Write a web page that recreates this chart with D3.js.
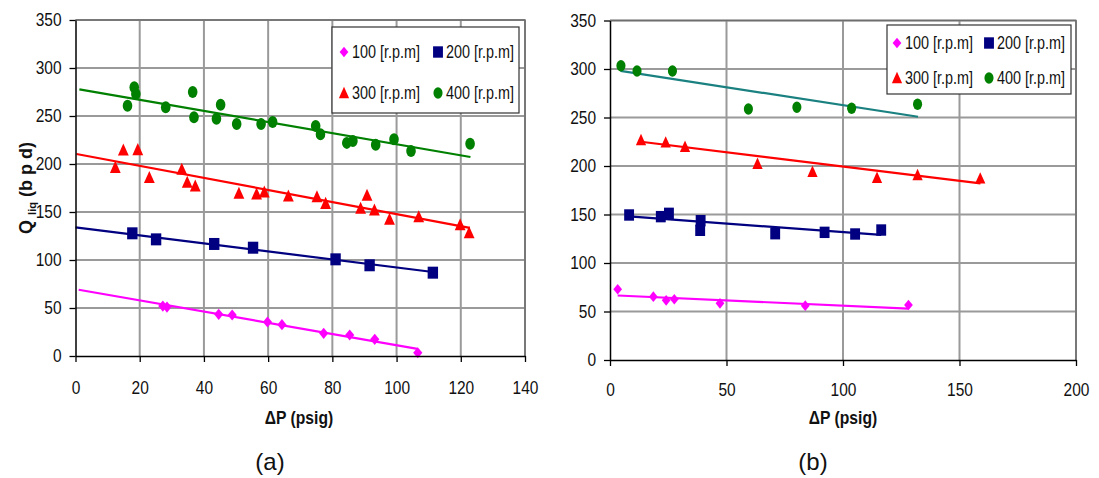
<!DOCTYPE html>
<html>
<head>
<meta charset="utf-8">
<script src="https://cdn.jsdelivr.net/npm/d3@7"></script>
<style>
  body { margin: 0; background: #fff; }
  svg { display: block; }
  text { font-family: "Liberation Sans", Arial, sans-serif; fill: #111; }
</style>
</head>
<body>
<svg id="chart" width="1099" height="478"></svg>
<script>
// ---- Data: (a) ----
const xTicksA = [0, 20, 40, 60, 80, 100, 120, 140];
const yTicks = [0, 50, 100, 150, 200, 250, 300, 350];

const a100 = [[27.2, 52], [28.5, 51], [44.6, 43.4], [48.8, 42.7], [59.8, 35.4], [64.3, 32.6],
              [77.3, 23.6], [85.4, 21.9], [93.2, 17.4], [106.6, 3.4]];
const a200 = [[17.7, 127.8], [25.1, 121.5], [43.2, 116.7], [55.3, 112.8], [81, 100.7], [91.6, 94.5], [111.3, 86.8]];
const a300 = [[12.4, 196.5], [14.9, 214.6], [19.4, 215], [23, 186], [33.1, 194.5], [34.8, 181], [37.3, 177],
              [50.9, 169.5], [56.4, 168.7], [58.8, 170.8], [66.3, 166.7], [75.2, 166], [77.9, 159],
              [88.8, 154], [90.8, 167.4], [93.1, 152], [97.8, 142.4], [106.9, 145], [119.8, 136.8], [122.6, 128.5]];
const a400 = [[16.2, 260.7], [18.3, 280], [18.8, 273], [28.1, 259], [36.5, 275], [36.9, 248.6], [43.9, 247.2],
              [45.2, 261.8], [50.2, 241.7], [57.8, 241.7], [61.4, 243.7], [74.8, 239.6], [76.3, 231],
              [84.5, 222], [86.4, 224], [93.5, 220], [99.2, 225.7], [104.5, 213.5], [122.9, 221]];

// Linear trend lines of (a): [start, end]
const aFit100 = [[1, 69], [106.5, 7.5]];
const aFit200 = [[0, 134], [111.3, 87.5]];
const aFit300 = [[0.3, 210.4], [122.8, 133.5]];
const aFit400 = [[1.2, 277.8], [123, 207.3]];

// ---- Data: (b) ----
const xTicksB = [0, 50, 100, 150, 200];

const b100 = [[3.3, 72.9], [18.6, 65.3], [24.1, 61.5], [27.6, 62.6], [47.2, 58.4], [83.8, 56], [128.1, 56.7]];
const b200 = [[8.2, 149.5], [21.8, 147.8], [25.3, 151.2], [38.9, 143.6], [38.7, 133.7], [70.9, 130.2],
              [92.1, 131.6], [105.2, 129.9], [116.4, 134]];
const b300 = [[13.3, 226.8], [23.9, 224.4], [32.2, 219.9], [63.3, 202.4], [86.9, 194.1], [114.6, 188],
              [132, 190.7], [158.9, 187.3]];
const b400 = [[4.7, 303.4], [11.6, 298], [26.8, 298], [59.4, 258.8], [80.2, 260.5], [103.7, 259.5], [132, 263.6]];

const bFit100 = [[3.3, 66.5], [128, 53]];
const bFit200 = [[8.2, 148], [116.4, 129]];
const bFit300 = [[13.3, 225], [159, 182]];
const bFit400 = [[4.5, 298], [132.2, 250.8]];

const seriesNames = ["100 [r.p.m]", "200 [r.p.m]", "300 [r.p.m]", "400 [r.p.m]"];
const seriesColors = ["#ff00ff", "#000080", "#ff0000", "#008000"];
const shapes = ["diamond", "square", "triangle", "ellipse"];

const svg = d3.select("#chart");
svg.append("rect").attr("width", 1099).attr("height", 478).attr("fill", "#fff");

// squeeze text horizontally (narrow face look)
function condense(sel, factor) {
  sel.each(function () {
    const w = this.getComputedTextLength();
    d3.select(this).attr("textLength", w * factor).attr("lengthAdjust", "spacingAndGlyphs");
  });
}

function markerPath(shape, x, y, k) {
  const s = k || 1;
  if (shape === "diamond") {
    const w = 4.6 * s, h = 5.6 * s;
    return `M${x},${y - h}L${x + w},${y}L${x},${y + h}L${x - w},${y}Z`;
  }
  if (shape === "square") {
    const w = 5.2 * s, h = 6 * s;
    return `M${x - w},${y - h}H${x + w}V${y + h}H${x - w}Z`;
  }
  if (shape === "triangle") {
    const w = 5.4 * s, h = 6.5 * s;
    return `M${x},${y - h}L${x + w},${y + h * 0.85}L${x - w},${y + h * 0.85}Z`;
  }
  const rx = 4.8 * s, ry = 6 * s;
  return `M${x - rx},${y}A${rx},${ry} 0 1,0 ${x + rx},${y}A${rx},${ry} 0 1,0 ${x - rx},${y}Z`;
}

function drawPanel(cfg) {
  const x = d3.scaleLinear().domain(cfg.xDomain).range([cfg.left, cfg.right]);
  const y = d3.scaleLinear().domain([0, 350]).range([cfg.bottom, cfg.top]);
  const g = svg.append("g");

  // grid
  g.append("g").selectAll("line").data(cfg.xTicks.slice(1)).join("line")
    .attr("x1", d => x(d)).attr("x2", d => x(d))
    .attr("y1", cfg.top).attr("y2", cfg.bottom)
    .attr("stroke", "#9a9a9a").attr("stroke-width", 2);
  g.append("g").selectAll("line").data(yTicks.slice(1)).join("line")
    .attr("x1", cfg.left).attr("x2", cfg.right)
    .attr("y1", d => y(d)).attr("y2", d => y(d))
    .attr("stroke", "#9a9a9a").attr("stroke-width", 2);
  // frame top/right
  g.append("path")
    .attr("d", `M${cfg.left},${cfg.top}H${cfg.right}V${cfg.bottom}`)
    .attr("fill", "none").attr("stroke", "#6e6e6e").attr("stroke-width", 1.5);

  // trend lines
  const line = d3.line().x(d => x(d[0])).y(d => y(d[1]));
  cfg.fits.forEach((f, i) => {
    g.append("path").attr("d", line(f)).attr("fill", "none")
      .attr("stroke", cfg.lineColors[i]).attr("stroke-width", 2.2);
  });

  // markers
  cfg.series.forEach((pts, i) => {
    g.append("g").selectAll("path").data(pts).join("path")
      .attr("d", d => markerPath(shapes[i], x(d[0]), y(d[1]), cfg.markerScale))
      .attr("fill", seriesColors[i]);
  });

  // axes
  const ax = g.append("g").attr("transform", `translate(0,${cfg.bottom})`)
    .call(d3.axisBottom(x).tickValues(cfg.xTicks).tickSize(6).tickSizeOuter(0).tickPadding(cfg.xPad));
  const ay = g.append("g").attr("transform", `translate(${cfg.left},0)`)
    .call(d3.axisLeft(y).tickValues(yTicks).tickSize(6).tickSizeOuter(0).tickPadding(8));
  [ax, ay].forEach(a => {
    a.select(".domain").attr("stroke", "#000").attr("stroke-width", 1.5);
    a.selectAll(".tick line").attr("stroke", "#000").attr("stroke-width", 1.3);
    a.selectAll(".tick text").attr("font-size", 18).attr("fill", "#222")
      .attr("font-family", "\"Liberation Sans\", Arial, sans-serif");
    condense(a.selectAll(".tick text"), 0.86);
  });

  // x title
  const xt = g.append("text").attr("x", cfg.xTitleX).attr("y", 424)
    .attr("text-anchor", "middle").attr("font-size", 18).attr("font-weight", "bold")
    .text("ΔP (psig)");
  condense(xt, 0.87);

  // panel tag
  g.append("text").attr("x", cfg.tagX).attr("y", 470)
    .attr("text-anchor", "middle").attr("font-size", 24).text(cfg.tag);

  // legend
  const L = cfg.legend;
  g.append("rect").attr("x", L.x).attr("y", L.y).attr("width", L.w).attr("height", L.h)
    .attr("fill", "#fff").attr("stroke", "#333").attr("stroke-width", 1.2);
  seriesNames.forEach((name, i) => {
    const col = i % 2, row = Math.floor(i / 2);
    const mx = L.mx[col], my = L.my[row];
    g.append("path").attr("d", markerPath(shapes[i], mx, my, 0.95)).attr("fill", seriesColors[i]);
    const t = g.append("text").attr("x", mx + 8).attr("y", my).attr("dy", "0.36em")
      .attr("font-size", 18).text(name);
    condense(t, 0.8);
  });
}

drawPanel({
  xDomain: [0, 140], xTicks: xTicksA, left: 75.5, right: 525, top: 20, bottom: 356,
  series: [a100, a200, a300, a400], fits: [aFit100, aFit200, aFit300, aFit400],
  lineColors: ["#ff00ff", "#000080", "#ff0000", "#008000"], markerScale: 1,
  xPad: 19, xTitleX: 299, tagX: 270, tag: "(a)",
  legend: { x: 332, y: 27, w: 187, h: 86, mx: [344, 438], my: [52, 93] }
});

drawPanel({
  xDomain: [0, 200], xTicks: xTicksB, left: 610, right: 1076, top: 20.5, bottom: 360,
  series: [b100, b200, b300, b400], fits: [bFit100, bFit200, bFit300, bFit400],
  lineColors: ["#ff00ff", "#000080", "#ff0000", "#1a8080"], markerScale: 0.95,
  xPad: 17, xTitleX: 843, tagX: 813, tag: "(b)",
  legend: { x: 887, y: 25, w: 184, h: 69, mx: [897, 989], my: [43, 78] }
});

// y title of (a)
const yt = svg.append("text")
  .attr("transform", "translate(32,188) rotate(-90)")
  .attr("text-anchor", "middle").attr("font-size", 18).attr("font-weight", "bold");
yt.append("tspan").text("Q ");
yt.append("tspan").attr("font-size", 11).attr("dy", 4).text("liq");
yt.append("tspan").attr("dy", -4).text(" (b p d)");
</script>
</body>
</html>
